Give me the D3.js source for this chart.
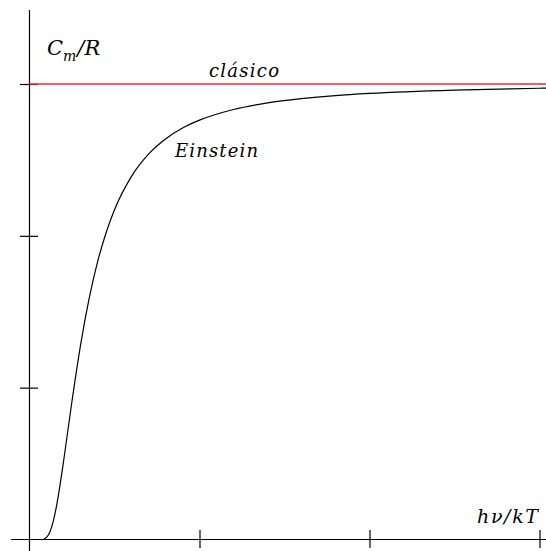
<!DOCTYPE html>
<html>
<head>
<meta charset="utf-8">
<script src="https://cdn.jsdelivr.net/npm/d3@7"></script>
<style>
  html, body { margin: 0; padding: 0; background: #fff; }
  svg { display: block; }
</style>
</head>
<body>
<script>
// kT/hν values (x) and Einstein molar heat capacity C_m/R (y)
const tValues = [0.085, 0.10, 0.12, 0.14, 0.16, 0.18, 0.20, 0.25, 0.30, 0.35, 0.40, 0.45, 0.50,
                 0.60, 0.70, 0.80, 0.90, 1.00, 1.20, 1.40, 1.60, 1.80, 2.00, 2.50, 3.00, 3.04];
const cValues = [0.003, 0.014, 0.050, 0.121, 0.227, 0.361, 0.512, 0.912, 1.279, 1.583, 1.827, 2.019, 2.172,
                 2.392, 2.538, 2.638, 2.710, 2.762, 2.832, 2.876, 2.904, 2.924, 2.938, 2.960, 2.972, 2.973];
const classicalValue = 3;
const xTicks = [1, 2, 3];
const yTicks = [1, 2, 3];
const labels = { classical: "clásico", einstein: "Einstein", xTitle: "hν/kT" };

const W = 546, H = 551;
const FONT = "'DejaVu Serif', 'Liberation Serif', 'Times New Roman', serif";
const svg = d3.select("body").append("svg").attr("width", W).attr("height", H);

const x = d3.scaleLinear().domain([0, 3]).range([29.5, 539.5]);
const y = d3.scaleLinear().domain([0, 3]).range([539.5, 84]);

// axis lines
svg.append("line").attr("x1", 11).attr("x2", 546).attr("y1", y(0)).attr("y2", y(0))
  .attr("stroke", "#000").attr("stroke-width", 1.2);
svg.append("line").attr("x1", x(0)).attr("x2", x(0)).attr("y1", 10).attr("y2", 551)
  .attr("stroke", "#000").attr("stroke-width", 1.2);

// x ticks (crossing the axis)
const xAxis = svg.append("g").attr("transform", `translate(0,${y(0) - 9.5})`)
  .call(d3.axisBottom(x).tickValues(xTicks).tickSizeInner(18).tickSizeOuter(0).tickFormat(""));
xAxis.select(".domain").remove();
xAxis.selectAll(".tick line").attr("stroke", "#000").attr("stroke-width", 1.2);

// y ticks (crossing the axis)
const yAxis = svg.append("g").attr("transform", `translate(${x(0) + 8.5},0)`)
  .call(d3.axisLeft(y).tickValues(yTicks).tickSizeInner(18).tickSizeOuter(0).tickFormat(""));
yAxis.select(".domain").remove();
yAxis.selectAll(".tick line").attr("stroke", "#000").attr("stroke-width", 1.2);

// classical (Dulong–Petit) line
svg.append("line").attr("x1", x(0)).attr("x2", W).attr("y1", y(classicalValue)).attr("y2", y(classicalValue))
  .attr("stroke", "#ee2a2a").attr("stroke-width", 1.4);

// Einstein curve
const pts = tValues.map((t, i) => [t, cValues[i]]);
svg.append("path").datum(pts)
  .attr("fill", "none").attr("stroke", "#000").attr("stroke-width", 1.2)
  .attr("d", d3.line().x(d => x(d[0])).y(d => y(d[1])).curve(d3.curveMonotoneX));

// labels
function label(xp, yp, size, str, len) {
  const t = svg.append("text").attr("x", xp).attr("y", yp)
    .attr("font-family", FONT).attr("font-style", "italic").attr("font-size", size)
    .attr("fill", "#000").text(str);
  if (len) t.attr("textLength", len).attr("lengthAdjust", "spacing");
  return t;
}
label(209, 77, 18, labels.classical, 70);
label(175, 157, 18, labels.einstein, 83);

const yt = svg.append("text").attr("x", 47).attr("y", 55)
  .attr("font-family", FONT).attr("font-style", "italic").attr("font-size", 21).attr("fill", "#000");
yt.append("tspan").text("C");
yt.append("tspan").attr("font-size", 14).attr("dy", 6).text("m");
yt.append("tspan").attr("dy", -6).attr("dx", 1).text("/R");

label(477, 523, 19, labels.xTitle, 61);
</script>
</body>
</html>
